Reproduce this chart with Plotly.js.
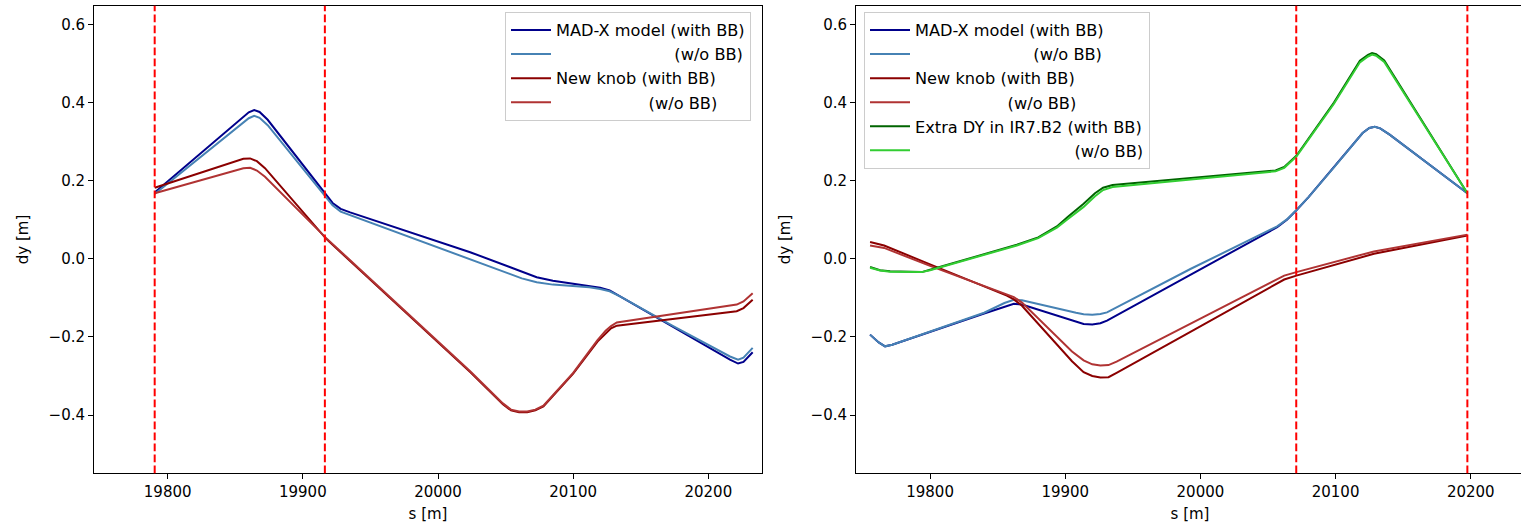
<!DOCTYPE html>
<html>
<head>
<meta charset="utf-8">
<script src="https://cdn.plot.ly/plotly-3.0.1.min.js"></script>
<style>
html,body{margin:0;padding:0;background:#fff;overflow:hidden;}
#chart{width:1524px;height:527px;}
</style>
</head>
<body>
<div id="chart"></div>
<script>
// ---------------- data: left panel ----------------
const sL_madx = [19790.4,19855,19860,19864,19868,19874,19917.3,19922,19928,19935,20023.8,20050,20062,20073,20085,20112,20120,20127,20135,20174,20216,20222,20226,20232.8];
const dyL_madx_bb = [0.170,0.359,0.375,0.381,0.376,0.356,0.162,0.143,0.128,0.119,0.017,-0.018,-0.033,-0.047,-0.056,-0.070,-0.074,-0.081,-0.097,-0.175,-0.258,-0.268,-0.264,-0.239];
const dyL_madx_nobb = [0.166,0.344,0.360,0.366,0.361,0.342,0.155,0.137,0.121,0.112,0.000,-0.035,-0.050,-0.060,-0.066,-0.073,-0.077,-0.083,-0.097,-0.172,-0.250,-0.258,-0.253,-0.228];

const sL_knob = [19790.4,19850,19856,19861,19866,19872,19917.3,20023.8,20048,20054,20060,20066,20072,20078,20100,20118,20124,20128,20132.3,20221,20226,20232.8];
const dyL_knob_bb = [0.182,0.249,0.256,0.257,0.250,0.232,0.051,-0.290,-0.372,-0.388,-0.393,-0.393,-0.388,-0.378,-0.294,-0.212,-0.190,-0.178,-0.171,-0.134,-0.126,-0.105];
const dyL_knob_nobb = [0.168,0.226,0.232,0.233,0.226,0.210,0.053,-0.288,-0.370,-0.386,-0.391,-0.391,-0.386,-0.376,-0.292,-0.208,-0.184,-0.172,-0.163,-0.117,-0.109,-0.088];

const vlinesL = [19790.4, 19916.3];

// ---------------- data: right panel ----------------
const sR_madx = [19755.6,19762,19766.7,19772,19840,19855,19862,19868,19908,19913.6,19920,19926,19930.9,19992.6,20056.8,20064,20071,20080,20098.8,20120,20125,20129,20133,20140,20197.5];
const dyR_madx_bb = [-0.194,-0.214,-0.224,-0.220,-0.140,-0.122,-0.115,-0.117,-0.162,-0.167,-0.168,-0.165,-0.158,-0.041,0.081,0.100,0.124,0.158,0.234,0.322,0.335,0.338,0.334,0.318,0.168];
const dyR_madx_nobb = [-0.194,-0.214,-0.224,-0.220,-0.138,-0.113,-0.105,-0.106,-0.138,-0.142,-0.143,-0.141,-0.137,-0.026,0.083,0.101,0.125,0.158,0.234,0.322,0.335,0.338,0.334,0.318,0.168];

const sR_knob = [19755.6,19766,19800,19856.8,19862,19868,19905,19913.6,19920,19926,19932,19938,19992.6,20051.9,20062,20071,20128.4,20197.5];
const dyR_knob_bb = [0.043,0.034,-0.014,-0.094,-0.104,-0.120,-0.262,-0.290,-0.300,-0.304,-0.303,-0.292,-0.187,-0.073,-0.053,-0.043,0.013,0.060];
const dyR_knob_nobb = [0.034,0.028,-0.018,-0.090,-0.098,-0.112,-0.237,-0.260,-0.270,-0.273,-0.272,-0.263,-0.166,-0.060,-0.043,-0.034,0.019,0.062];

const sR_extra = [19755.6,19763,19770.4,19793.8,19800,19864.2,19880,19893.8,19902,19913.6,19922,19928,19935,19992.6,20055.6,20062,20071,20098.8,20118,20124,20127,20130,20136,20197.5];
const dyR_extra_bb = [-0.021,-0.029,-0.032,-0.034,-0.028,0.036,0.055,0.083,0.108,0.141,0.168,0.182,0.189,0.207,0.226,0.235,0.264,0.400,0.507,0.522,0.527,0.524,0.508,0.168];
const dyR_extra_nobb = [-0.023,-0.030,-0.033,-0.034,-0.029,0.034,0.053,0.080,0.102,0.133,0.160,0.176,0.184,0.204,0.224,0.233,0.262,0.397,0.503,0.518,0.523,0.520,0.504,0.168];

const vlinesR = [20070.9, 20197.5];

// ---------------- labels ----------------
const NB = '\u00A0';
const labelsL = ['MAD-X model (with BB)', NB.repeat(23)+'(w/o BB)', 'New knob (with BB)', NB.repeat(18)+'(w/o BB)'];
const labelsR = ['MAD-X model (with BB)', NB.repeat(23)+'(w/o BB)', 'New knob (with BB)', NB.repeat(18)+'(w/o BB)', 'Extra DY in IR7.B2 (with BB)', NB.repeat(31)+'(w/o BB)'];
const colors = ['#00008b', '#4682b4', '#8b0000', '#b03333', '#006400', '#32cd32'];
const xTicks = [19800, 19900, 20000, 20100, 20200];
const yTicks = [-0.4, -0.2, 0.0, 0.2, 0.4, 0.6];
const xTitle = 's [m]';
const yTitle = 'dy [m]';

// ---------------- build ----------------
const W = 1524, H = 527;
const FONT = 'DejaVu Sans, sans-serif';
const FS = 15;
const LFS = 16.2;

function tr(x, y, i, lab, xa, ya, leg) {
  return {x: x, y: y, type: 'scatter', mode: 'lines', name: lab,
    line: {color: colors[i], width: 2}, xaxis: xa, yaxis: ya, legend: leg,
    legendgroup: leg + '_' + i, hoverinfo: 'skip'};
}
const data = [
  tr(sL_madx, dyL_madx_bb, 0, labelsL[0], 'x', 'y', 'legend'),
  tr(sL_madx, dyL_madx_nobb, 1, labelsL[1], 'x', 'y', 'legend'),
  tr(sL_knob, dyL_knob_bb, 2, labelsL[2], 'x', 'y', 'legend'),
  tr(sL_knob, dyL_knob_nobb, 3, labelsL[3], 'x', 'y', 'legend'),
  tr(sR_madx, dyR_madx_bb, 0, labelsR[0], 'x2', 'y2', 'legend2'),
  tr(sR_madx, dyR_madx_nobb, 1, labelsR[1], 'x2', 'y2', 'legend2'),
  tr(sR_knob, dyR_knob_bb, 2, labelsR[2], 'x2', 'y2', 'legend2'),
  tr(sR_knob, dyR_knob_nobb, 3, labelsR[3], 'x2', 'y2', 'legend2'),
  tr(sR_extra, dyR_extra_bb, 4, labelsR[4], 'x2', 'y2', 'legend2'),
  tr(sR_extra, dyR_extra_nobb, 5, labelsR[5], 'x2', 'y2', 'legend2')
];

const shapes = [];
vlinesL.forEach(v => shapes.push({type: 'line', xref: 'x', yref: 'y domain', x0: v, x1: v, y0: 0, y1: 1,
  line: {color: '#ff0000', width: 2, dash: '7.7px,3.3px'}, layer: 'above'}));
vlinesR.forEach(v => shapes.push({type: 'line', xref: 'x2', yref: 'y2 domain', x0: v, x1: v, y0: 0, y1: 1,
  line: {color: '#ff0000', width: 2, dash: '7.7px,3.3px'}, layer: 'above'}));

const yDom = [1 - 473.3 / H, 1 - 5.7 / H];
function xax(dom, range) {
  return {domain: dom, range: range, tickvals: xTicks, tickformat: 'd', ticks: 'outside', ticklen: 5, tickwidth: 1,
    tickcolor: '#000', showline: true, mirror: true, linecolor: '#000', linewidth: 1,
    showgrid: false, zeroline: false, tickfont: {family: FONT, size: FS, color: '#000'},
    title: {text: xTitle, font: {family: FONT, size: FS, color: '#000'}, standoff: 8}, automargin: false};
}
function yax(anchor) {
  return {domain: yDom, range: [-0.549, 0.648], tickvals: yTicks, tickformat: '.1f', ticks: 'outside',
    ticklen: 5, tickwidth: 1, tickcolor: '#000', showline: true, mirror: true, linecolor: '#000',
    linewidth: 1, showgrid: false, zeroline: false, anchor: anchor,
    tickfont: {family: FONT, size: FS, color: '#000'},
    title: {text: yTitle, font: {family: FONT, size: FS, color: '#000'}, standoff: 16}, automargin: false};
}
function leg(xpx) {
  return {x: xpx / W, y: 1 - 12 / H, xanchor: 'left', yanchor: 'top', bgcolor: 'rgba(255,255,255,0.8)',
    bordercolor: '#cccccc', borderwidth: 1, font: {family: FONT, size: LFS, color: '#000'},
    tracegroupgap: 0, traceorder: 'grouped', itemwidth: 40, itemclick: false, itemdoubleclick: false};
}
const layout = {
  width: W, height: H, margin: {l: 0, r: 0, t: 0, b: 0},
  paper_bgcolor: '#fff', plot_bgcolor: '#fff', showlegend: true,
  font: {family: FONT, size: FS, color: '#000'},
  xaxis: xax([94 / W, 762 / W], [19745.5, 20239.7]),
  yaxis: yax('x'),
  xaxis2: xax([856 / W, 1], [19745.2, 20239.4]),
  yaxis2: yax('x2'),
  legend: leg(505),
  legend2: leg(864),
  shapes: shapes
};
Plotly.newPlot('chart', data, layout, {displayModeBar: false, staticPlot: true});
</script>
</body>
</html>
